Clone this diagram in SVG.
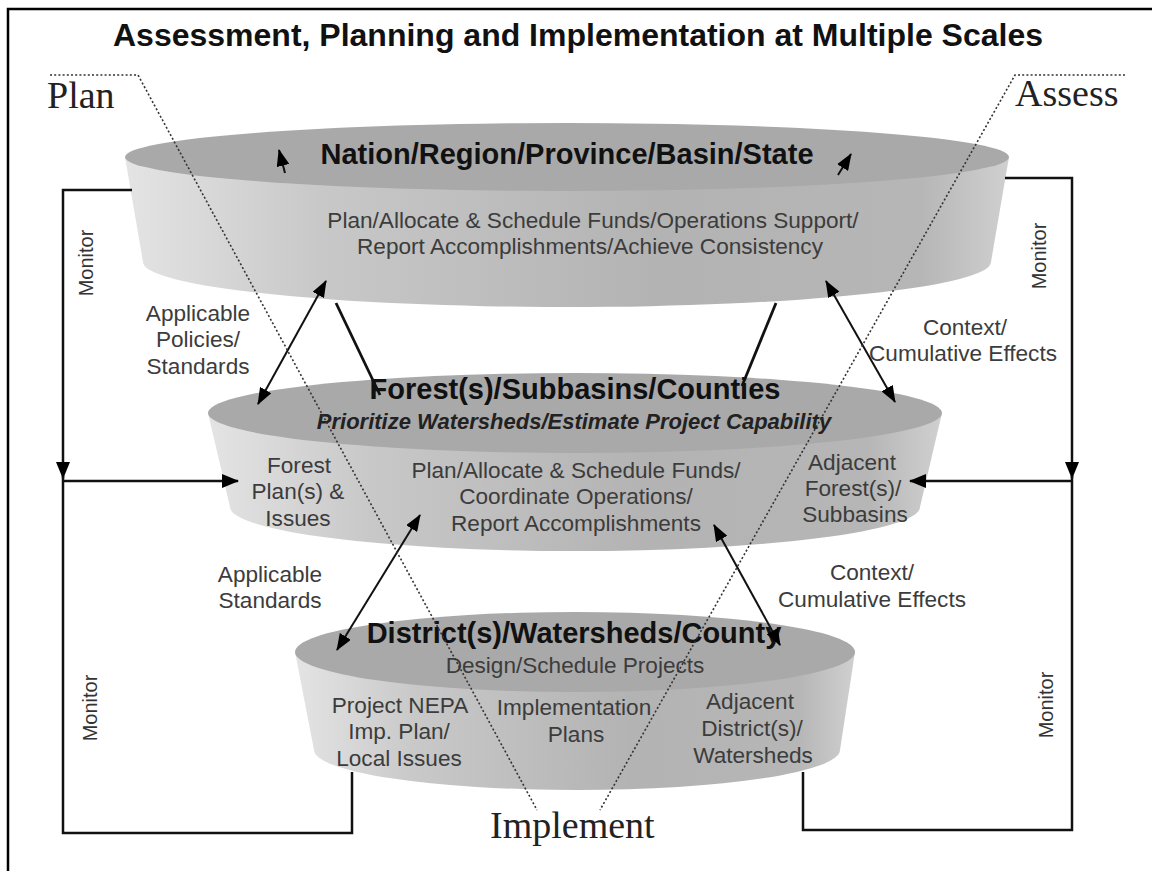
<svg xmlns="http://www.w3.org/2000/svg" width="1152" height="871" viewBox="0 0 1152 871">
<defs>
  <linearGradient id="side" x1="0" y1="0" x2="1" y2="0">
    <stop offset="0" stop-color="#e4e4e4"/>
    <stop offset="0.22" stop-color="#c8c8c8"/>
    <stop offset="0.6" stop-color="#b3b3b3"/>
    <stop offset="0.9" stop-color="#b6b6b6"/>
    <stop offset="1" stop-color="#d0d0d0"/>
  </linearGradient>
  <marker id="ah" markerUnits="userSpaceOnUse" markerWidth="17" markerHeight="14" viewBox="0 0 17 14" refX="16" refY="7" orient="auto-start-reverse">
    <path d="M0 0 L17 7 L0 14 Z" fill="#000"/>
  </marker>
  <marker id="ahs" markerUnits="userSpaceOnUse" markerWidth="17" markerHeight="13" viewBox="0 0 17 13" refX="16" refY="6.5" orient="auto-start-reverse">
    <path d="M0 0 L17 6.5 L0 13 Z" fill="#000"/>
  </marker>
</defs>
<style>
  .top { fill: #a9a9a9; }
  .side { fill: url(#side); }
  .ttl { font-family: "Liberation Sans", Arial, sans-serif; font-weight: bold; fill: #111; }
  .hdr { font-family: "Liberation Sans", Arial, sans-serif; font-weight: bold; font-size: 29px; fill: #111; text-anchor: middle; }
  .sub { font-family: "Liberation Sans", Arial, sans-serif; font-weight: bold; font-style: italic; font-size: 22px; fill: #222; text-anchor: middle; }
  .body { font-family: "Liberation Sans", Arial, sans-serif; font-size: 22.6px; fill: #3c3c3c; text-anchor: middle; }
  .mon { font-family: "Liberation Sans", Arial, sans-serif; font-size: 20px; fill: #333; text-anchor: middle; }
  .serif { font-family: "Liberation Serif", "Times New Roman", serif; font-size: 38px; fill: #222; }
  .loop { fill: none; stroke: #111; stroke-width: 2.5; }
  .dbl { fill: none; stroke: #111; stroke-width: 2; }
  .thick { fill: none; stroke: #111; stroke-width: 2.8; }
  .dot { fill: none; stroke: #333; stroke-width: 1.6; stroke-dasharray: 2 2.2; }
</style>
<rect width="1152" height="871" fill="#fff"/>
<path d="M8 871 V9 H1152" fill="none" stroke="#000" stroke-width="2.5"/>
<text class="ttl" x="113" y="46" font-size="31" textLength="930" lengthAdjust="spacingAndGlyphs">Assessment, Planning and Implementation at Multiple Scales</text>

<g id="node-top">
  <path class="side" d="M125 157 L143 262 A424 45 0 0 0 991 262 L1009 157 Z"/>
  <ellipse class="top" cx="567" cy="157" rx="442" ry="34"/>
  <text class="hdr" x="567" y="164">Nation/Region/Province/Basin/State</text>
  <text class="body" x="593" y="228">Plan/Allocate &amp; Schedule Funds/Operations Support/</text>
  <text class="body" x="590" y="254">Report Accomplishments/Achieve Consistency</text>
</g>

<g id="node-middle">
  <path class="side" d="M208 413 L230 507 A345 44 0 0 0 920 507 L942 413 Z"/>
  <ellipse class="top" cx="575" cy="413" rx="367" ry="40"/>
  <text class="hdr" x="575" y="399">Forest(s)/Subbasins/Counties</text>
  <text class="sub" x="574" y="429">Prioritize Watersheds/Estimate Project Capability</text>
  <text class="body" x="299" y="473">Forest</text>
  <text class="body" x="298" y="499">Plan(s) &amp;</text>
  <text class="body" x="298" y="526">Issues</text>
  <text class="body" x="576" y="478">Plan/Allocate &amp; Schedule Funds/</text>
  <text class="body" x="576" y="504">Coordinate Operations/</text>
  <text class="body" x="576" y="531">Report Accomplishments</text>
  <text class="body" x="852" y="470">Adjacent</text>
  <text class="body" x="853" y="496">Forest(s)/</text>
  <text class="body" x="855" y="522">Subbasins</text>
</g>

<g id="node-bottom">
  <path class="side" d="M295 652 L314 750 A263 40 0 0 0 840 750 L855 652 Z"/>
  <ellipse class="top" cx="575" cy="652" rx="280" ry="40"/>
  <text class="hdr" x="574" y="643">District(s)/Watersheds/County</text>
  <text class="body" x="575" y="673">Design/Schedule Projects</text>
  <text class="body" x="400" y="713">Project NEPA</text>
  <text class="body" x="399" y="739">Imp. Plan/</text>
  <text class="body" x="399" y="766">Local Issues</text>
  <text class="body" x="574" y="715">Implementation</text>
  <text class="body" x="576" y="742">Plans</text>
  <text class="body" x="750" y="709">Adjacent</text>
  <text class="body" x="752" y="736">District(s)/</text>
  <text class="body" x="753" y="763">Watersheds</text>
</g>

<g id="labels">
  <text class="body" x="198" y="321">Applicable</text>
  <text class="body" x="198" y="347">Policies/</text>
  <text class="body" x="198" y="374">Standards</text>
  <text class="body" x="965" y="335">Context/</text>
  <text class="body" x="963" y="361">Cumulative Effects</text>
  <text class="body" x="270" y="582">Applicable</text>
  <text class="body" x="270" y="608">Standards</text>
  <text class="body" x="872" y="580">Context/</text>
  <text class="body" x="872" y="607">Cumulative Effects</text>
  <text class="mon" transform="translate(93 263) rotate(-90)">Monitor</text>
  <text class="mon" transform="translate(97 708) rotate(-90)">Monitor</text>
  <text class="mon" transform="translate(1046 256) rotate(-90)">Monitor</text>
  <text class="mon" transform="translate(1053 705) rotate(-90)">Monitor</text>
  <text class="serif" x="47" y="108">Plan</text>
  <text class="serif" x="1015" y="106">Assess</text>
  <text class="serif" x="490" y="838">Implement</text>
</g>

<g id="connectors">
  <path class="loop" d="M132 190 H63 V478" marker-end="url(#ah)"/>
  <path class="loop" d="M63 481 H238" marker-end="url(#ah)"/>
  <path class="loop" d="M63 476 V833 H352 V772"/>
  <path class="loop" d="M1005 178 H1072 V478" marker-end="url(#ah)"/>
  <path class="loop" d="M1072 481 H910" marker-end="url(#ah)"/>
  <path class="loop" d="M1072 476 V830 H803 V772"/>

  <path class="dbl" d="M326 281 L258 404" marker-start="url(#ahs)" marker-end="url(#ahs)"/>
  <path class="thick" d="M336 303 L380 395"/>
  <path class="thick" d="M776 303 L742 386"/>
  <path class="dbl" d="M826 281 L895 402" marker-start="url(#ahs)" marker-end="url(#ahs)"/>
  <path class="dbl" d="M420 515 L337 650" marker-start="url(#ahs)" marker-end="url(#ahs)"/>
  <path class="dbl" d="M714 525 L780 645" marker-start="url(#ahs)" marker-end="url(#ahs)"/>

  <path class="dbl" d="M285 173 L279 150" marker-end="url(#ahs)"/>
  <path class="dbl" d="M838 175 L851 154" marker-end="url(#ahs)"/>

  <path class="dot" d="M50 75 H138 L537 810"/>
  <path class="dot" d="M1125 75 H1015 L600 810"/>
</g>
</svg>
